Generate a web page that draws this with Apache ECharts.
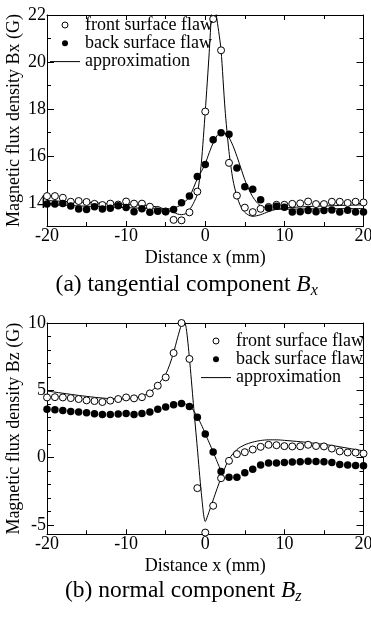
<!DOCTYPE html>
<html>
<head>
<meta charset="utf-8">
<script src="https://cdn.jsdelivr.net/npm/echarts@6/dist/echarts.min.js"></script>
<style>
html,body{margin:0;padding:0;background:#fff;}
#chart{width:371px;height:617px;}
</style>
</head>
<body>
<div id="chart"></div>
<script>
// measured positions (mm)
var xPos = [-20,-19,-18,-17,-16,-15,-14,-13,-12,-11,-10,-9,-8,-7,-6,-5,-4,-3,-2,-1,0,1,2,3,4,5,6,7,8,9,10,11,12,13,14,15,16,17,18,19,20];

// (a) tangential component Bx (G)
var bxFront = [14.31,14.31,14.24,14.07,14.1,14.06,13.98,13.93,13.99,13.95,14.08,13.99,13.99,13.86,13.72,13.66,13.3,13.28,13.62,14.5,17.9,21.83,20.5,15.72,14.33,13.82,13.63,13.77,13.85,13.94,13.94,13.98,14.0,14.08,13.97,13.97,14.07,14.07,14.02,14.07,14.04];
var bxBack = [13.97,13.97,14.0,13.89,13.76,13.74,13.86,13.76,13.79,13.9,13.83,13.65,13.77,13.62,13.67,13.65,13.74,14.03,14.31,15.14,15.65,16.7,17.0,16.94,15.5,14.71,14.6,14.15,13.8,13.88,13.84,13.63,13.65,13.7,13.64,13.7,13.72,13.63,13.71,13.63,13.63];
var bxFitFrontX = [-20,-17,-14,-11,-9,-7,-6,-5,-4,-3.5,-3,-2.5,-2,-1.5,-1,-0.5,0,0.5,0.8,1.05,1.4,1.7,2,2.5,3,3.5,4,4.5,5,5.5,6,7,8,9,10,12,14,17,20];
var bxFitFrontY = [14.12,14.07,14.02,13.97,13.94,13.9,13.84,13.75,13.62,13.55,13.52,13.56,13.72,14.0,14.4,15.7,17.9,20.4,22.1,23.0,22.0,21.3,20.5,18.0,16.2,15.0,14.3,13.86,13.62,13.5,13.45,13.52,13.65,13.75,13.8,13.85,13.88,13.91,13.94];
var bxFitBackX = [-20,-15,-10,-7,-5,-4,-3,-2,-1,-0.5,0,0.5,1,1.5,2,2.5,3,3.5,4,4.5,5,5.5,6,6.5,7,8,9,10,12,15,20];
var bxFitBackY = [13.95,13.88,13.82,13.78,13.76,13.8,13.95,14.28,15.05,15.35,15.68,16.15,16.57,16.88,17.0,16.97,16.8,16.45,16.0,15.5,15.0,14.6,14.28,14.05,13.9,13.78,13.75,13.75,13.76,13.77,13.78];
var bxLabelTicks = [14,16,18,20,22];
var bxMinorTicks = [15,17,19,21];

// (b) normal component Bz (G)
var bzFront = [4.47,4.49,4.47,4.42,4.35,4.25,4.2,4.13,4.23,4.35,4.47,4.4,4.49,4.77,5.34,5.96,7.77,10.0,7.33,-2.27,-5.57,-3.58,-1.53,-0.24,0.26,0.4,0.6,0.8,0.95,0.92,0.85,0.83,0.84,0.95,0.86,0.83,0.67,0.46,0.38,0.37,0.3];
var bzBack = [3.6,3.55,3.5,3.43,3.38,3.33,3.25,3.2,3.2,3.23,3.28,3.2,3.28,3.38,3.6,3.75,3.93,4.02,3.8,3.0,1.76,0.42,-1.03,-1.47,-1.47,-1.12,-0.86,-0.56,-0.41,-0.4,-0.36,-0.33,-0.31,-0.28,-0.29,-0.31,-0.36,-0.52,-0.56,-0.58,-0.6];
var bzFitFrontX = [-20,-18,-16,-14,-12,-10,-9,-8,-7,-6,-5,-4.5,-4,-3.5,-3,-2.7,-2.4,-2,-1.5,-1,-0.5,0,0.5,1,1.5,2,2.5,3,4,5,6,7,8,9,10,12,14,16,18,20];
var bzFitFrontY = [4.95,4.78,4.62,4.48,4.38,4.36,4.42,4.55,4.85,5.4,6.2,6.9,7.8,8.9,9.9,10.2,9.6,7.4,4.0,0.7,-2.6,-4.75,-4.0,-3.15,-2.3,-1.5,-0.75,-0.1,0.6,0.95,1.15,1.27,1.32,1.32,1.28,1.18,1.05,0.9,0.7,0.5];
var bzFitBackX = [-3.3,-3,-2.5,-2,-1.5,-1,-0.5,0,0.5,1,1.5,2,2.2];
var bzFitBackY = [4.12,4.05,3.98,3.82,3.5,3.05,2.45,1.78,1.1,0.42,-0.3,-1.0,-1.25];
var bzLabelTicks = [-5,0,5,10];
var bzMinorTicks = [-4,-3,-2,-1,1,2,3,4,6,7,8,9];

var xTickLabels = [-20,-10,0,10,20];

function pairs(xs, ys){ return ys.map(function(v,i){ return [xs[i], v]; }); }

var FONT = "'Liberation Serif','Times New Roman','DejaVu Serif',serif";
var BLACK = '#000';

function xAxes(grid){
  var base = {
    gridIndex: grid, type: 'value', min: -20, max: 20, interval: 10,
    axisLine: {show: true, onZero: false, lineStyle: {color: BLACK, width: 1}},
    axisTick: {show: true, inside: true, length: 5, lineStyle: {color: BLACK}},
    minorTick: {show: true, splitNumber: 2, length: 4, lineStyle: {color: BLACK}},
    splitLine: {show: false}
  };
  var bottom = Object.assign({}, base, {
    position: 'bottom',
    axisLabel: {show: true, margin: 1, color: BLACK, fontFamily: FONT, fontSize: 18,
      customValues: xTickLabels, hideOverlap: false},
    name: 'Distance x (mm)', nameLocation: 'middle', nameGap: 23, nameMoveOverlap: false,
    nameTextStyle: {color: BLACK, fontFamily: FONT, fontSize: 18}
  });
  var top = Object.assign({}, base, {position: 'top', axisLabel: {show: false}});
  return [bottom, top];
}

function yAxes(grid, min, max, majors, minors, name){
  var common = {gridIndex: grid, type: 'value', min: min, max: max, splitLine: {show: false}};
  var left = Object.assign({}, common, {
    position: 'left',
    axisLine: {show: true, onZero: false, lineStyle: {color: BLACK, width: 1}},
    axisTick: {show: true, inside: true, length: 7, customValues: majors, lineStyle: {color: BLACK}},
    axisLabel: {show: true, margin: 1, color: BLACK, fontFamily: FONT, fontSize: 18, customValues: majors},
    name: name, nameLocation: 'middle', nameGap: 24, nameMoveOverlap: false,
    nameTextStyle: {color: BLACK, fontFamily: FONT, fontSize: 18}
  });
  var leftMinor = Object.assign({}, common, {
    position: 'left',
    axisLine: {show: false, onZero: false},
    axisTick: {show: true, inside: true, length: 4, customValues: minors, lineStyle: {color: BLACK}},
    axisLabel: {show: false}
  });
  var right = Object.assign({}, common, {
    position: 'right',
    axisLine: {show: true, onZero: false, lineStyle: {color: BLACK, width: 1}},
    axisTick: {show: true, inside: true, length: 7, customValues: majors, lineStyle: {color: BLACK}},
    axisLabel: {show: false}
  });
  var rightMinor = Object.assign({}, common, {
    position: 'right',
    axisLine: {show: false, onZero: false},
    axisTick: {show: true, inside: true, length: 4, customValues: minors, lineStyle: {color: BLACK}},
    axisLabel: {show: false}
  });
  return [left, leftMinor, right, rightMinor];
}

function fitLine(name, data, xi, yi){
  return {name: name, type: 'line', xAxisIndex: xi, yAxisIndex: yi, data: data,
    showSymbol: false, symbol: 'none', smooth: 0.25, clip: true,
    lineStyle: {color: BLACK, width: 1}, itemStyle: {color: BLACK}, z: 2, silent: true};
}
function pts(name, data, xi, yi, empty){
  return {name: name, type: 'scatter', xAxisIndex: xi, yAxisIndex: yi, data: data,
    symbol: 'circle', symbolSize: empty ? 7 : 7.5,
    itemStyle: empty ? {color: '#fff', borderColor: BLACK, borderWidth: 1, opacity: 1}
                     : {color: BLACK, borderWidth: 0, opacity: 1},
    z: 3, silent: true};
}

function legend(left, top){
  return {
    left: left, top: top, orient: 'vertical', itemGap: 0.3,
    itemWidth: 30, itemHeight: 6, padding: 0,
    textStyle: {color: BLACK, fontFamily: FONT, fontSize: 18, lineHeight: 18},
    selectedMode: false,
    data: [
      {name: 'front surface flaw', icon: 'circle', itemStyle: {color: '#fff', borderColor: BLACK, borderWidth: 1, opacity: 1}},
      {name: 'back surface flaw', icon: 'circle', itemStyle: {color: BLACK, borderWidth: 0, opacity: 1}},
      {name: 'approximation', icon: 'path://M0,0L30,0L30,1L0,1Z', itemStyle: {color: BLACK, borderWidth: 0}}
    ]
  };
}

var option = {
  backgroundColor: '#fff',
  animation: false,
  grid: [
    {left: 47, top: 15, width: 316.5, height: 211, containLabel: false, outerBoundsMode: 'none'},
    {left: 47, top: 323, width: 316.5, height: 211.3, containLabel: false, outerBoundsMode: 'none'}
  ],
  xAxis: xAxes(0).concat(xAxes(1)),
  yAxis: yAxes(0, 13.04, 22, bxLabelTicks, bxMinorTicks, 'Magnetic flux density Bx (G)')
    .concat(yAxes(1, -5.7, 10, bzLabelTicks, bzMinorTicks, 'Magnetic flux density Bz (G)')),
  legend: [legend(50, 16), legend(201, 332)],
  series: [
    fitLine('approximation', pairs(bxFitFrontX, bxFitFrontY), 0, 0),
    fitLine('approximation', pairs(bxFitBackX, bxFitBackY), 0, 0),
    pts('front surface flaw', pairs(xPos, bxFront), 0, 0, true),
    pts('back surface flaw', pairs(xPos, bxBack), 0, 0, false),
    fitLine('approximation', pairs(bzFitFrontX, bzFitFrontY), 2, 4),
    fitLine('approximation', pairs(bzFitBackX, bzFitBackY), 2, 4),
    pts('front surface flaw', pairs(xPos, bzFront), 2, 4, true),
    pts('back surface flaw', pairs(xPos, bzBack), 2, 4, false)
  ],
  graphic: [
    {type: 'text', x: 186.7, y: 285, style: {
      text: '(a) tangential component {i|B}{s|x}',
      textAlign: 'center', textVerticalAlign: 'middle',
      font: '23.5px ' + FONT, fill: BLACK,
      rich: {i: {fontFamily: FONT, fontSize: 23.5, fontStyle: 'italic', fill: BLACK},
             s: {fontFamily: FONT, fontSize: 16, fontStyle: 'italic', fill: BLACK, padding: [12, 0, 0, 0]}}
    }},
    {type: 'text', x: 183.3, y: 591, style: {
      text: '(b) normal component {i|B}{s|z}',
      textAlign: 'center', textVerticalAlign: 'middle',
      font: '23.5px ' + FONT, fill: BLACK,
      rich: {i: {fontFamily: FONT, fontSize: 23.5, fontStyle: 'italic', fill: BLACK},
             s: {fontFamily: FONT, fontSize: 16, fontStyle: 'italic', fill: BLACK, padding: [12, 0, 0, 0]}}
    }}
  ]
};
var chart = echarts.init(document.getElementById('chart'), null, {renderer: 'canvas'});
chart.setOption(option);
</script>
</body>
</html>
